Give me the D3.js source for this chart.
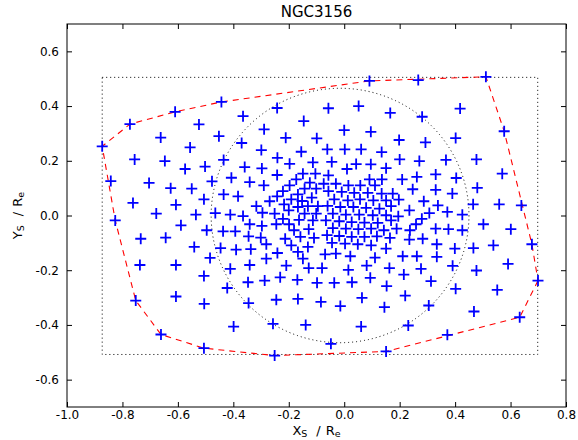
<!DOCTYPE html>
<html>
<head>
<meta charset="utf-8">
<script src="https://cdn.jsdelivr.net/npm/d3@7"></script>
<style>
body { margin: 0; background: #fff; }
text { font-family: "DejaVu Sans", sans-serif; fill: #000; }
</style>
</head>
<body>
<div id="main"></div>
<script>
// bin centres (X_S / R_e , Y_S / R_e)
const binX = [
 -0.773,-0.610,-0.524,-0.662,-0.556,-0.873,-0.756,-0.647,-0.502,-0.574,
 -0.443,-0.365,-0.242,-0.146,-0.289,-0.452,-0.370,-0.211,-0.099,-0.299,
 -0.155,-0.435,-0.241,-0.197,-0.113,-0.359,-0.297, 0.091, 0.267,-0.057,
  0.052, 0.166, 0.281, 0.000, 0.096, 0.198, 0.293,-0.061, 0.002, 0.061,
  0.135, 0.200, 0.271,-0.045, 0.043, 0.096, 0.151, 0.010, 0.511, 0.418,
  0.577, 0.402, 0.367, 0.477,-0.842,-0.704,-0.626,-0.550,-0.762,-0.607,
 -0.506,-0.678,-0.535,-0.826,-0.589,-0.496,-0.734,-0.644,-0.541,-0.737,
 -0.607,-0.484,-0.242,-0.477,-0.407,-0.341,-0.290,-0.149,-0.104,-0.173,
 -0.197,-0.124,-0.221,-0.143,-0.101,-0.435,-0.383,-0.269,-0.242,-0.191,
 -0.167,-0.117,-0.317,-0.217,-0.152,-0.465,-0.411,-0.365,-0.295,
 -0.251,-0.200,-0.167,-0.131,-0.095,-0.221,-0.163,-0.143,-0.101,-0.341,
 -0.297,-0.245,-0.199,-0.113,-0.437,-0.393,-0.345,-0.301,-0.213,
 -0.181,-0.158,-0.128,-0.109,-0.281,-0.191,-0.131,-0.446,-0.390,-0.337,
 -0.281,-0.241,-0.167,-0.149,-0.341,-0.057, 0.091, 0.136, 0.209, 0.262,
 -0.074,-0.030, 0.015, 0.058, 0.111, 0.175, 0.247,-0.057,-0.009, 0.036,
  0.085, 0.135, 0.197, 0.287,-0.036, 0.013, 0.057, 0.105, 0.151,-0.060,
 -0.014, 0.033, 0.079, 0.127, 0.169, 0.235, 0.307,-0.041, 0.006, 0.054,
  0.103, 0.151, 0.195, 0.280,-0.066,-0.018, 0.027, 0.073, 0.121, 0.169,
  0.259,-0.041, 0.006, 0.051, 0.097, 0.143, 0.189, 0.237,-0.062,-0.018,
  0.027, 0.073, 0.118, 0.165, 0.283,-0.044, 0.003, 0.049, 0.097, 0.151,
  0.235,-0.069,-0.030, 0.022, 0.111, 0.211, 0.262, 0.330, 0.404, 0.570,
  0.330, 0.390, 0.480, 0.338, 0.465, 0.559, 0.639, 0.372, 0.426, 0.502,
  0.601, 0.330, 0.376, 0.426, 0.334, 0.399, 0.466, 0.538, 0.677, 0.334,
  0.391, 0.591,-0.506,-0.752,-0.607,-0.505,-0.661,-0.506,-0.411,-0.209,
 -0.128,-0.347,-0.287,-0.231,-0.169,-0.098,-0.422,-0.345,-0.245,-0.167,
 -0.084,-0.399,-0.257,-0.139,-0.251,-0.080, 0.015, 0.081, 0.163, 0.277,
 -0.036, 0.028, 0.094, 0.215, 0.313, 0.153,-0.014, 0.064, 0.145, 0.220,
  0.305, 0.061, 0.231,-0.048, 0.151, 0.477, 0.402, 0.552, 0.699, 0.468,
  0.633, 0.372
];
const binY = [
  0.334, 0.379, 0.333, 0.285, 0.249, 0.253, 0.205, 0.199, 0.179, 0.170,
  0.415, 0.363, 0.393, 0.345, 0.315, 0.290, 0.265, 0.284, 0.282, 0.239,
  0.233, 0.203, 0.211, 0.189, 0.194, 0.177, 0.172, 0.492, 0.495, 0.392,
  0.400, 0.375, 0.361, 0.312, 0.306, 0.276, 0.267, 0.242, 0.242, 0.242,
  0.232, 0.205, 0.199, 0.196, 0.188, 0.187, 0.173, 0.170, 0.507, 0.391,
  0.308, 0.283, 0.203, 0.205, 0.126, 0.119, 0.100, 0.098, 0.046, 0.039,
  0.059, 0.007, 0.003,-0.018,-0.036,-0.054,-0.085,-0.081,-0.115,-0.181,
 -0.181,-0.155, 0.148, 0.125, 0.138, 0.122, 0.110, 0.153, 0.153, 0.132,
  0.110, 0.120, 0.089, 0.098, 0.098, 0.077, 0.070, 0.052, 0.070, 0.059,
  0.077, 0.065, 0.034, 0.041, 0.053, 0.009, 0.003,-0.002, 0.010,
  0.007, 0.019, 0.031, 0.034, 0.034,-0.012,-0.016, 0.007, 0.007,-0.032,
 -0.038,-0.032,-0.032,-0.018,-0.058,-0.058,-0.076,-0.081,-0.085,
 -0.054,-0.078,-0.050,-0.082,-0.105,-0.109,-0.115,-0.119,-0.125,-0.123,
 -0.158,-0.137,-0.133,-0.158,-0.181, 0.147, 0.132, 0.132, 0.132, 0.141,
  0.116, 0.116, 0.110, 0.110, 0.110, 0.080, 0.096, 0.089, 0.086, 0.083,
  0.083, 0.080, 0.058, 0.052, 0.059, 0.055, 0.059, 0.055, 0.055, 0.035,
  0.031, 0.031, 0.028, 0.025, 0.034, 0.019, 0.009, 0.007, 0.003, 0.003,
  0.001, 0.001,-0.003,-0.012,-0.018,-0.021,-0.024,-0.026,-0.027,-0.018,
 -0.032,-0.046,-0.048,-0.050,-0.048,-0.054,-0.048,-0.054,-0.072,-0.075,
 -0.078,-0.078,-0.076,-0.082,-0.085,-0.100,-0.103,-0.105,-0.109,-0.121,
 -0.088,-0.142,-0.139,-0.149,-0.154,-0.149,-0.149, 0.150, 0.137, 0.153,
  0.094, 0.080, 0.101, 0.037, 0.041, 0.041, 0.037, 0.013, 0.003,-0.032,
 -0.050,-0.048,-0.050,-0.054,-0.105,-0.121,-0.119,-0.109,-0.105,-0.151,
 -0.184,-0.177,-0.221,-0.311,-0.296,-0.323,-0.435,-0.485,-0.195,-0.183,
 -0.192,-0.244,-0.238,-0.226,-0.235,-0.246,-0.265,-0.320,-0.308,-0.305,
 -0.316,-0.406,-0.396,-0.400,-0.512,-0.192,-0.199,-0.183,-0.192,-0.195,
 -0.246,-0.244,-0.228,-0.216,-0.240,-0.258,-0.331,-0.301,-0.335,-0.293,
 -0.329,-0.406,-0.402,-0.469,-0.497,-0.201,-0.268,-0.272,-0.238,-0.351,
 -0.372,-0.436
];
const xTicks = [-1.0, -0.8, -0.6, -0.4, -0.2, 0.0, 0.2, 0.4, 0.6, 0.8];
const yTicks = [-0.6, -0.4, -0.2, 0.0, 0.2, 0.4, 0.6];
const fieldX = [-0.873, 0.698];   // dotted field-of-view box
const fieldY = [-0.508, 0.505];
const ringCentre = [-0.015, 0.0]; // dotted circle
const ringRadius = 0.465;

const w = 578, h = 440;
const margin = { left: 67, right: 12, top: 24, bottom: 33 };

const svg = d3.select('#main').append('svg')
  .attr('width', w).attr('height', h);

const x = d3.scaleLinear().domain([-1.0, 0.8]).range([margin.left, w - margin.right]);
const y = d3.scaleLinear().domain([-0.7, 0.7]).range([h - margin.bottom, margin.top]);

const pts = binX.map((d, i) => [d, binY[i]]);

// field box
svg.append('rect')
  .attr('x', x(fieldX[0])).attr('y', y(fieldY[1]))
  .attr('width', x(fieldX[1]) - x(fieldX[0]))
  .attr('height', y(fieldY[0]) - y(fieldY[1]))
  .attr('fill', 'none').attr('stroke', '#000').attr('stroke-width', 1)
  .attr('stroke-dasharray', '1,3');

// circle (ellipse on screen)
svg.append('ellipse')
  .attr('cx', x(ringCentre[0])).attr('cy', y(ringCentre[1]))
  .attr('rx', x(ringCentre[0] + ringRadius) - x(ringCentre[0]))
  .attr('ry', y(ringCentre[1]) - y(ringCentre[1] + ringRadius))
  .attr('fill', 'none').attr('stroke', '#000').attr('stroke-width', 1)
  .attr('stroke-dasharray', '1,3');

// convex hull of the bins
const hull = d3.polygonHull(pts);
svg.append('path')
  .attr('d', d3.line().x(d => x(d[0])).y(d => y(d[1])).curve(d3.curveLinearClosed)(hull))
  .attr('fill', 'none').attr('stroke', 'red').attr('stroke-width', 1.1)
  .attr('stroke-dasharray', '6,5');

// bins as + markers
const m = 5.5;
svg.append('g').selectAll('path')
  .data(pts)
  .enter().append('path')
  .attr('d', d => {
    const px = x(d[0]), py = y(d[1]);
    return `M${px - m},${py}H${px + m}M${px},${py - m}V${py + m}`;
  })
  .attr('stroke', 'blue').attr('stroke-width', 1.8).attr('fill', 'none');

// axes: inward ticks on all four sides
const fmt = d => d3.format('.1f')(d).replace('\u2212', '-');
const tl = 5;
svg.append('g').attr('transform', `translate(0,${h - margin.bottom})`)
  .call(d3.axisBottom(x).tickValues(xTicks).tickFormat(fmt).tickSizeInner(-tl).tickSizeOuter(0).tickPadding(3));
svg.append('g').attr('transform', `translate(0,${margin.top})`)
  .call(d3.axisTop(x).tickValues(xTicks).tickFormat('').tickSizeInner(-tl).tickSizeOuter(0));
svg.append('g').attr('transform', `translate(${margin.left},0)`)
  .call(d3.axisLeft(y).tickValues(yTicks).tickFormat(fmt).tickSizeInner(-tl).tickSizeOuter(0).tickPadding(8));
svg.append('g').attr('transform', `translate(${w - margin.right},0)`)
  .call(d3.axisRight(y).tickValues(yTicks).tickFormat('').tickSizeInner(-tl).tickSizeOuter(0));

svg.selectAll('.domain').remove();
svg.selectAll('.tick line').attr('stroke', '#000');
svg.selectAll('.tick text').attr('font-size', 12).attr('font-family', '"DejaVu Sans", sans-serif');

svg.append('rect')
  .attr('x', margin.left).attr('y', margin.top)
  .attr('width', w - margin.left - margin.right)
  .attr('height', h - margin.top - margin.bottom)
  .attr('fill', 'none').attr('stroke', '#000').attr('stroke-width', 1);

// title and labels
svg.append('text')
  .attr('x', (margin.left + w - margin.right) / 2).attr('y', 17)
  .attr('text-anchor', 'middle').attr('font-size', 15)
  .text('NGC3156');

function axisLabel(sel, main) {
  sel.append('tspan').text(main);
  sel.append('tspan').attr('font-size', 9.5).attr('dy', 2).text('S');
  sel.append('tspan').attr('dy', -2).attr('dx', 9).text('/');
  sel.append('tspan').attr('dx', 5).text('R');
  sel.append('tspan').attr('font-size', 9.5).attr('dy', 2).text('e');
}

const xl = svg.append('text')
  .attr('x', (margin.left + w - margin.right) / 2).attr('y', h - 5)
  .attr('text-anchor', 'middle').attr('font-size', 13);
axisLabel(xl, 'X');

const yl = svg.append('text')
  .attr('transform', `translate(22,${(margin.top + h - margin.bottom) / 2}) rotate(-90)`)
  .attr('text-anchor', 'middle').attr('font-size', 13);
axisLabel(yl, 'Y');
</script>
</body>
</html>
